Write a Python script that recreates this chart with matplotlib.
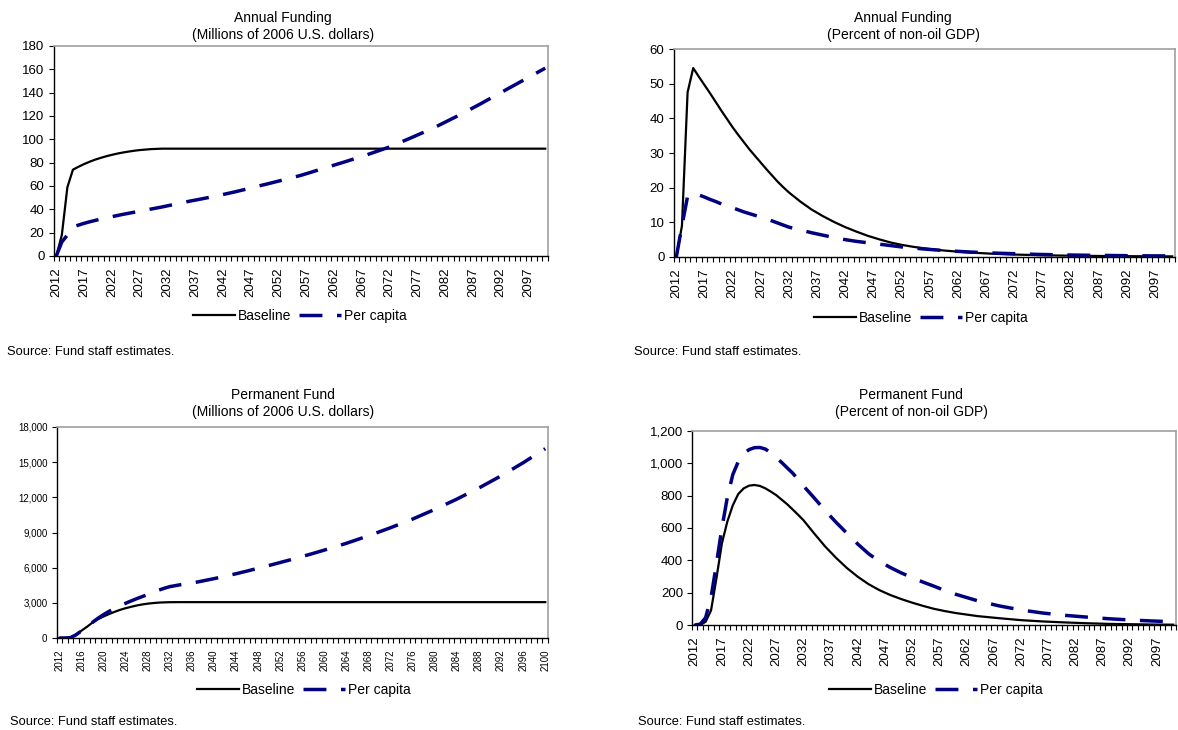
import matplotlib
matplotlib.use("Agg")
import matplotlib.pyplot as plt
from matplotlib.ticker import FuncFormatter

plt.rcParams["font.family"] = ["Liberation Sans", "DejaVu Sans"]
plt.rcParams["lines.scale_dashes"] = False

W, H = 1178, 730

# yearly through 2032, every second year to 2060, then every fourth year
years = (list(range(2012, 2033)) + list(range(2034, 2061, 2))
         + list(range(2064, 2101, 4)))

# Annual funding, millions of 2006 U.S. dollars
fund_usd_base = [0, 18, 59, 74, 76.5, 78.8, 80.8, 82.6, 84.1, 85.5, 86.7, 87.8, 88.7,
                 89.5, 90.2, 90.8, 91.2, 91.6, 91.8, 92.0, 92.0,
                 92, 92, 92, 92, 92, 92, 92, 92, 92, 92, 92, 92, 92, 92,
                 92, 92, 92, 92, 92, 92, 92, 92, 92, 92]
fund_usd_capita = [0, 12, 18, 25, 26.5, 28, 29.3, 30.5, 31.6, 32.7, 33.7, 34.7, 35.7,
                   36.6, 37.5, 38.4, 39.3, 40.2, 41.1, 42.0, 43.0,
                   45.0, 47.0, 48.8, 50.7, 52.7, 54.8, 57.1, 59.5, 61.8, 64.2, 66.6,
                   69.1, 72.0, 75.0,
                   80.8, 86.9, 93.5, 101.6, 110.0, 119.5, 129.5, 140.0, 150.5, 161.0]

# Annual funding, percent of non-oil GDP
fund_gdp_base = [0, 9, 47.5, 54.5, 52.0, 49.6, 47.2, 44.7, 42.2, 39.8, 37.4, 35.2, 33.1,
                 31.0, 29.1, 27.2, 25.3, 23.5, 21.7, 20.1, 18.6,
                 16.0, 13.7, 11.8, 10.1, 8.6, 7.3, 6.1, 5.1, 4.2, 3.5, 2.95, 2.5,
                 2.1, 1.8,
                 1.3, 0.95, 0.7, 0.55, 0.42, 0.35, 0.28, 0.24, 0.2, 0.18]
fund_gdp_capita = [0, 9, 17.5, 18.3, 17.9, 17.3, 16.6, 16.0, 15.3, 14.8, 14.2, 13.6, 13.0,
                   12.5, 12.0, 11.5, 11.0, 10.4, 9.8, 9.2, 8.6,
                   7.8, 7.0, 6.3, 5.6, 5.0, 4.5, 4.1, 3.7, 3.3, 2.9, 2.6, 2.3,
                   2.05, 1.8,
                   1.45, 1.15, 0.95, 0.75, 0.62, 0.52, 0.45, 0.38, 0.33, 0.3]

# Permanent fund, millions of 2006 U.S. dollars
perm_usd_base = [0, 0, 30, 280, 620, 950, 1310, 1600, 1830, 2040, 2230, 2400, 2540,
                 2660, 2770, 2860, 2930, 2980, 3020, 3040, 3055,
                 3060, 3060, 3060, 3060, 3060, 3060, 3060, 3060, 3060, 3060, 3060,
                 3060, 3060, 3060,
                 3060, 3060, 3060, 3060, 3060, 3060, 3060, 3060, 3060, 3060]
perm_usd_capita = [0, 0, 30, 260, 600, 980, 1330, 1680, 1990, 2270, 2530, 2760, 2960,
                   3160, 3350, 3530, 3710, 3900, 4080, 4240, 4380,
                   4550, 4680, 4870, 5060, 5270, 5480, 5710, 5950, 6190, 6440, 6690,
                   6950, 7220, 7500,
                   8080, 8720, 9410, 10150, 10970, 11850, 12800, 13830, 14950, 16150]

# Permanent fund, percent of non-oil GDP
perm_gdp_base = [0, 0, 20, 90, 290, 505, 640, 740, 810, 845, 862, 866, 860,
                 845, 825, 803, 775, 747, 715, 682, 648,
                 565, 485, 415, 352, 298, 252, 215, 185, 160, 138, 118, 100, 86, 74,
                 55, 42, 30, 22, 16, 11, 7, 5, 3, 2]
perm_gdp_capita = [0, 5, 45, 170, 380, 600, 790, 930, 1010, 1060, 1085, 1097, 1098,
                   1088, 1065, 1035, 1005, 972, 940, 900, 860,
                   785, 707, 635, 567, 500, 440, 393, 355, 322, 293, 265, 240, 213, 190,
                   150, 118, 93, 74, 60, 49, 39, 31, 25, 20]

NAVY = "#000080"


def px_rect(left, top, right, bottom):
    return [left / W, 1 - bottom / H, (right - left) / W, (bottom - top) / H]


def draw_panel(fig, box, base, capita, ymax, ystep, label_years, title,
               title_xy, legend_xy, source_xy, fs=9.5, comma=False):
    ax = fig.add_axes(px_rect(*box))

    ax.plot(years, base, color="black", linewidth=1.6, label="Baseline")
    ax.plot(years, capita, color=NAVY, linewidth=2.5,
            linestyle=(0, (16.5, 10.5)), dash_capstyle="butt",
            label="Per capita")

    ax.set_xlim(2011.5, 2100.5)
    ax.set_ylim(0, ymax)
    ax.set_yticks(range(0, ymax + 1, ystep))
    if comma:
        ax.yaxis.set_major_formatter(FuncFormatter(lambda v, p: f"{v:,.0f}"))

    ax.set_xticks(label_years)
    ax.set_xticklabels([str(y) for y in label_years], rotation=90)
    ax.set_xticks([y + 0.5 for y in range(2011, 2101)], minor=True)

    ax.tick_params(axis="x", which="major", length=0, pad=8, labelsize=fs)
    ax.tick_params(axis="x", which="minor", length=3.5, width=0.8,
                   direction="out")
    ax.tick_params(axis="y", length=3.5, width=0.8, direction="out", pad=3,
                   labelsize=fs)

    for side in ["top", "right"]:
        ax.spines[side].set_color("#a0a0a0")
        ax.spines[side].set_linewidth(1.2)
    for side in ["left", "bottom"]:
        ax.spines[side].set_color("black")
        ax.spines[side].set_linewidth(1.0)

    fig.text(title_xy[0] / W, 1 - title_xy[1] / H, title, ha="center",
             va="bottom", fontsize=10, linespacing=1.3)

    fig.legend(handles=ax.get_lines(), loc="center",
               bbox_to_anchor=(legend_xy[0] / W, 1 - legend_xy[1] / H),
               ncol=2, frameon=False, fontsize=10, handlelength=3.0,
               handletextpad=0.2, columnspacing=0.6, borderaxespad=0)

    fig.text(source_xy[0] / W, 1 - source_xy[1] / H,
             "Source: Fund staff estimates.", ha="left", va="center",
             fontsize=9.3)
    return ax


fig = plt.figure(figsize=(W / 100, H / 100), dpi=100)

draw_panel(fig, (53.5, 46, 548, 256), fund_usd_base, fund_usd_capita,
           180, 20, list(range(2012, 2101, 5)),
           "Annual Funding\n(Millions of 2006 U.S. dollars)",
           (283, 42), (300, 316), (7, 352))

draw_panel(fig, (673.5, 49, 1175, 257), fund_gdp_base, fund_gdp_capita,
           60, 10, list(range(2012, 2101, 5)),
           "Annual Funding\n(Percent of non-oil GDP)",
           (903, 42), (921, 318), (634, 352))

draw_panel(fig, (56.5, 427, 548, 638), perm_usd_base, perm_usd_capita,
           18000, 3000, list(range(2012, 2101, 4)),
           "Permanent Fund\n(Millions of 2006 U.S. dollars)",
           (283, 419), (304, 690), (10, 722), fs=7, comma=True)

draw_panel(fig, (692, 431, 1176, 625), perm_gdp_base, perm_gdp_capita,
           1200, 200, list(range(2012, 2101, 5)),
           "Permanent Fund\n(Percent of non-oil GDP)",
           (911, 419), (936, 690), (638, 722), comma=True)

fig.savefig("out.png", dpi=100)
